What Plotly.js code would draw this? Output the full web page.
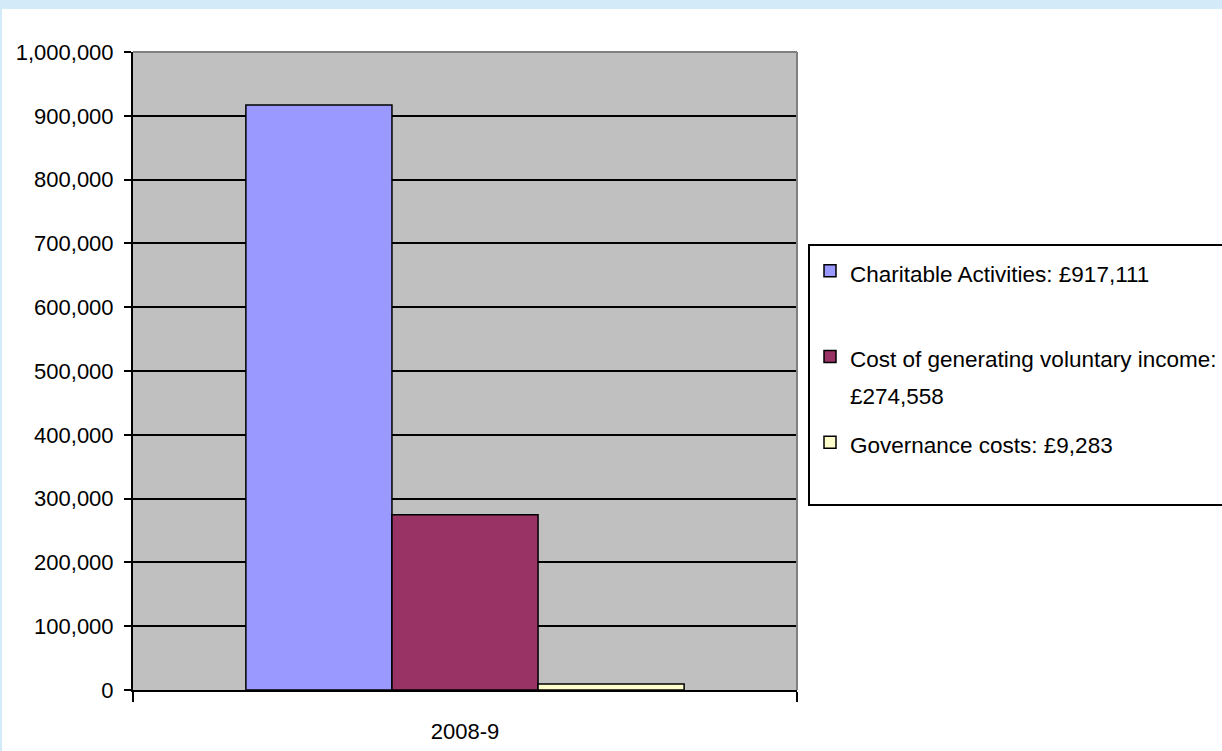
<!DOCTYPE html>
<html>
<head>
<meta charset="utf-8">
<script src="https://cdn.plot.ly/plotly-3.0.1.min.js"></script>
<style>
  html, body { margin: 0; padding: 0; width: 1222px; height: 751px; overflow: hidden; background: #D3EAF8; }
  #chart { position: absolute; left: 2px; top: 9px; width: 1220px; height: 742px; background: #fff; }
</style>
</head>
<body>
<div id="chart"></div>
<script>
// ---- data ----
const categories = ['2008-9'];
const seriesNames = [
  'Charitable Activities: £917,111',
  'Cost of generating voluntary income:<br>£274,558',
  'Governance costs: £9,283'
];
const seriesValues = [917111, 274558, 9283];
const yTickValues = [0, 100000, 200000, 300000, 400000, 500000, 600000, 700000, 800000, 900000, 1000000];

// ---- style ----
const barColors = ['#9999FF', '#993366', '#FFFFCC'];
const FONT = '"Liberation Sans Narrow", "Arial Narrow", "Liberation Sans", Arial, sans-serif';
// extra blank lines to reproduce the legend's vertical spacing
const legendPad = [1, 0, 1];
// legend glyphs drawn smaller than the legend's line pitch (Excel's tall narrow font)
function legendLabel(name, pad) {
  const lines = name.split('<br>');
  for (let k = 0; k < pad; k++) lines.push('\u00a0');
  return lines.map(l => '<span style="font-size:22.5px">' + l + '</span>').join('<br>');
}

const traces = seriesNames.map((name, i) => ({
  type: 'bar',
  name: legendLabel(name, legendPad[i]),
  x: categories,
  y: [seriesValues[i]],
  legendgroup: 'g' + i,
  marker: { color: barColors[i], line: { color: '#000000', width: 1.5 } },
  hoverinfo: 'y'
}));

const layout = {
  width: 1220,
  height: 742,
  margin: { l: 131, r: 425, t: 43, b: 61, pad: 0 },
  paper_bgcolor: '#FFFFFF',
  plot_bgcolor: '#C0C0C0',
  font: { family: FONT, size: 22, color: '#000000' },
  barmode: 'group',
  bargap: 0.34,
  bargroupgap: 0,
  showlegend: true,
  legend: {
    xref: 'container', yref: 'container',
    x: 806 / 1220, y: 1 - 235 / 742,
    xanchor: 'left', yanchor: 'top',
    bgcolor: '#FFFFFF',
    bordercolor: '#000000',
    borderwidth: 2,
    font: { family: FONT, size: 28, color: '#000000' },
    valign: 'top',
    traceorder: 'grouped',
    tracegroupgap: 10
  },
  xaxis: {
    type: 'category',
    showgrid: false,
    showline: true,
    linecolor: '#000000',
    linewidth: 2,
    ticks: 'outside',
    tickson: 'boundaries',
    ticklen: 10,
    tickwidth: 2,
    tickcolor: '#000000',
    tickfont: { family: FONT, size: 22, color: '#000000' },
    ticklabelstandoff: 21,
    zeroline: false,
    fixedrange: true
  },
  yaxis: {
    range: [0, 1000000],
    tickmode: 'array',
    tickvals: yTickValues,
    tickformat: ',d',
    showgrid: true,
    gridcolor: '#000000',
    gridwidth: 2,
    showline: true,
    linecolor: '#000000',
    linewidth: 2,
    ticks: 'outside',
    ticklen: 7,
    tickwidth: 2,
    tickcolor: '#000000',
    tickfont: { family: FONT, size: 22, color: '#000000' },
    ticklabelstandoff: 6,
    zeroline: false,
    fixedrange: true
  },
  shapes: [
    { type: 'line', xref: 'paper', yref: 'paper', x0: 0, x1: 1, y0: 1, y1: 1,
      line: { color: '#808080', width: 2 }, layer: 'above' },
    { type: 'line', xref: 'paper', yref: 'paper', x0: 1, x1: 1, y0: 0, y1: 1,
      line: { color: '#808080', width: 2 }, layer: 'above' }
  ]
};

Plotly.newPlot('chart', traces, layout, { displayModeBar: false, responsive: false });
</script>
</body>
</html>
